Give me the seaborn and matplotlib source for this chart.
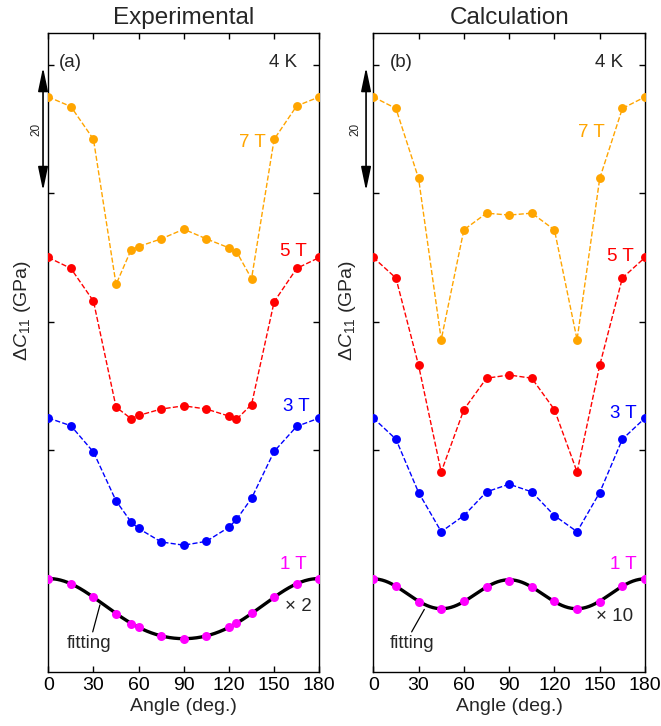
import numpy as np
import matplotlib
matplotlib.use("Agg")
import matplotlib.pyplot as plt
import seaborn as sns

# ---------------- data (displayed values, GPa, with offsets) ----------------
angles_exp = [0, 15, 30, 45, 55, 60, 75, 90, 105, 120, 125, 135, 150, 165, 180]
exp_7T = [75.0, 73.5, 68.4, 45.8, 51.2, 51.7, 52.9, 54.4, 52.9, 51.5, 50.9, 46.7, 68.4, 73.6, 75.0]
exp_5T = [50.0, 48.3, 43.2, 26.7, 24.9, 25.4, 26.4, 26.9, 26.4, 25.3, 24.8, 27.1, 43.1, 48.3, 50.0]
exp_3T = [25.0, 23.8, 19.7, 12.1, 8.8, 7.8, 5.7, 5.2, 5.8, 8.0, 9.2, 12.5, 19.8, 23.7, 25.0]
exp_1T = [0.0, -0.8, -2.9, -5.5, -7.1, -7.6, -8.9, -9.4, -8.9, -7.5, -6.9, -5.4, -2.9, -0.8, 0.0]

angles_calc = [0, 15, 30, 45, 60, 75, 90, 105, 120, 135, 150, 165, 180]
calc_7T = [75.0, 73.2, 62.3, 37.2, 54.3, 56.9, 56.6, 56.9, 54.3, 37.2, 62.3, 73.2, 75.0]
calc_5T = [50.0, 46.8, 33.2, 16.6, 26.3, 31.2, 31.7, 31.2, 26.3, 16.6, 33.2, 46.8, 50.0]
calc_3T = [25.0, 21.7, 13.4, 7.3, 9.8, 13.5, 14.7, 13.5, 9.8, 7.3, 13.4, 21.7, 25.0]
calc_1T = [0.0, -1.2, -3.6, -4.7, -3.5, -1.3, -0.3, -1.3, -3.5, -4.7, -3.6, -1.2, 0.0]

field_labels = ["7 T", "5 T", "3 T", "1 T"]
colors = ["#FFA500", "#FF0000", "#0000FF", "#FF00FF"]
x_ticks = [0, 30, 60, 90, 120, 150, 180]
y_ticks = [0, 20, 40, 60, 80]

# ---------------- style ----------------
sns.set_theme(style="ticks")
plt.rcParams["font.family"] = ["Liberation Sans", "DejaVu Sans"]
plt.rcParams["mathtext.fontset"] = "custom"
plt.rcParams["mathtext.rm"] = "Liberation Sans"
plt.rcParams["mathtext.it"] = "Liberation Sans:italic"

fig = plt.figure(figsize=(6.61, 7.26), dpi=100)
ax1 = fig.add_axes([48.3 / 661, 54.3 / 726, 271 / 661, 639 / 726])
ax2 = fig.add_axes([373.3 / 661, 54.3 / 726, 271.7 / 661, 639 / 726])


def fit_curve(ang, vals):
    a = np.radians(np.asarray(ang, dtype=float))
    A = np.column_stack([np.ones_like(a), np.cos(2 * a), np.cos(4 * a)])
    coef, *_ = np.linalg.lstsq(A, np.asarray(vals, dtype=float), rcond=None)
    xf = np.linspace(0, 180, 361)
    r = np.radians(xf)
    yf = coef[0] + coef[1] * np.cos(2 * r) + coef[2] * np.cos(4 * r)
    return xf, yf


def draw(ax, ang, series, title, tag, lab_pos, scale_txt, scale_pos, fit_txt_pos,
         fit_line, arrow_x, arrow_lab_x):
    for s, c in zip(series[:3], colors[:3]):
        sns.lineplot(x=ang, y=s, ax=ax, color=c, linestyle="--", linewidth=1.0,
                     marker="o", markersize=6.4, markeredgewidth=0, zorder=3)
    xf, yf = fit_curve(ang, series[3])
    sns.lineplot(x=xf, y=yf, ax=ax, color="black", linewidth=2.4, zorder=2)
    sns.scatterplot(x=ang, y=series[3], ax=ax, color=colors[3], s=42,
                    linewidth=0, zorder=4)

    ax.set_xlim(0, 180)
    ax.set_ylim(-14.5, 85)
    ax.set_xticks(x_ticks)
    ax.set_yticks(y_ticks)
    ax.set_yticklabels([])
    ax.tick_params(axis="both", direction="in", length=4.5, width=1.0,
                   top=True, right=True, labelsize=14, colors="black", pad=4)
    for sp in ax.spines.values():
        sp.set_visible(True)
        sp.set_linewidth(1.0)
        sp.set_color("black")
    ax.set_xlabel("Angle (deg.)", fontsize=14, labelpad=3)
    ax.set_ylabel(r"$\Delta C_{11}$ (GPa)", fontsize=14)
    ax.yaxis.set_label_coords(-0.058, 0.565)
    ax.set_title(title, fontsize=17.5, pad=6)

    ax.text(tag[1], 80.3, tag[0], fontsize=13.5, ha="center", va="center")
    ax.text(tag[2], 80.3, "4 K", fontsize=13.5, ha="center", va="center")
    for (lx, ly), t, c in zip(lab_pos, field_labels, colors):
        ax.text(lx, ly, t, color=c, fontsize=13.5, ha="center", va="center")
    ax.text(scale_pos[0], scale_pos[1], scale_txt, fontsize=13.5, ha="center", va="center")
    ax.text(fit_txt_pos[0], fit_txt_pos[1], "fitting", fontsize=13.5, ha="center", va="center")
    ax.plot([fit_line[0], fit_line[2]], [fit_line[1], fit_line[3]], color="black", lw=0.9)

    ax.annotate("", xy=(arrow_x, 79.6), xytext=(arrow_x, 60.4), xycoords="data",
                annotation_clip=False,
                arrowprops=dict(arrowstyle="<|-|>,head_length=1.2,head_width=0.25",
                                color="black", lw=1.2, shrinkA=0, shrinkB=0))
    ax.text(arrow_lab_x, 70, "20", fontsize=8.5, rotation=90, ha="center", va="center",
            clip_on=False)


draw(ax1, angles_exp, [exp_7T, exp_5T, exp_3T, exp_1T], "Experimental",
     ("(a)", 14.7, 155.9),
     [(135.3, 67.9), (162.7, 51.0), (164.4, 26.8), (162.7, 2.2)],
     "× 2", (166.1, -4.3), (27.2, -10.1), (29.5, -8.3, 34.3, -4.1),
     -3.5, -8.2)

draw(ax2, angles_calc, [calc_7T, calc_5T, calc_3T, calc_1T], "Calculation",
     ("(b)", 18.3, 156.1),
     [(144.2, 69.4), (163.7, 50.2), (165.9, 25.7), (165.6, 2.2)],
     "× 10", (159.6, -5.9), (25.8, -10.1), (25.4, -8.3, 33.8, -4.8),
     -4.8, -12.0)

fig.savefig("out.png", dpi=100)
